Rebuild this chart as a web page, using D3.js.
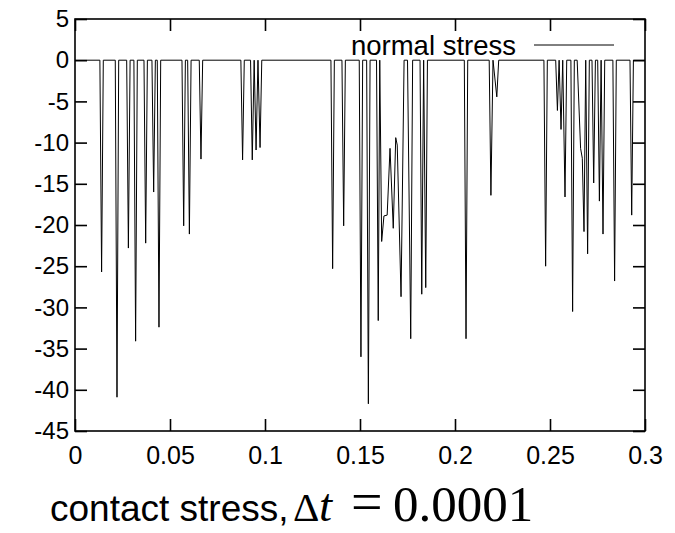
<!DOCTYPE html>
<html>
<head>
<meta charset="utf-8">
<script src="https://cdn.jsdelivr.net/npm/d3@7"></script>
<style>
  html, body { margin: 0; padding: 0; background: #fff; }
  svg { display: block; }
</style>
</head>
<body>
<script>
// ---- data (vertices of the normal-stress trace) ----
const time = [
  0,
  0.0131, 0.0140, 0.0149,
  0.0212, 0.0221, 0.0230,
  0.0272, 0.0281, 0.0290,
  0.0310, 0.0319, 0.0328,
  0.0363, 0.0372, 0.0381,
  0.0405, 0.0414, 0.0423,
  0.0433, 0.0442, 0.0451,
  0.0563, 0.0572, 0.0581,
  0.0593, 0.0602, 0.0611,
  0.0654, 0.0663, 0.0672,
  0.0873, 0.0882, 0.0891,
  0.0924, 0.0933, 0.0943,
  0.0953, 0.0963,
  0.0974, 0.0983,
  0.1347, 0.1356, 0.1365,
  0.1405, 0.1414, 0.1423,
  0.1496, 0.1505, 0.1514,
  0.1535, 0.1544, 0.1553,
  0.1587, 0.1596, 0.1604,
  0.1614, 0.1626, 0.1643, 0.1658, 0.1675, 0.1688, 0.1696, 0.1716, 0.1732,
  0.1750, 0.1767, 0.1777,
  0.1816, 0.1825, 0.1835,
  0.1846, 0.1855,
  0.2049, 0.2058, 0.2067,
  0.2180, 0.2189, 0.2200,
  0.2220, 0.2230,
  0.2468, 0.2477, 0.2486,
  0.2530, 0.2539, 0.2548,
  0.2558, 0.2567,
  0.2579, 0.2588,
  0.2610, 0.2619, 0.2628,
  0.2643, 0.2661, 0.2670, 0.2679, 0.2688,
  0.2698, 0.2707,
  0.2721, 0.2730, 0.2739,
  0.2751, 0.2760, 0.2769,
  0.2779, 0.2788,
  0.2831, 0.2840, 0.2849,
  0.2921, 0.2930, 0.2939,
  0.3
];
const stress = [
  0,
  0, -25.7, 0,
  0, -40.9, 0,
  0, -22.8, 0,
  0, -34.1, 0,
  0, -22.2, 0,
  0, -16.0, 0,
  0, -32.4, 0,
  0, -20.1, 0,
  0, -21.1, 0,
  0, -12.0, 0,
  0, -12.1, 0,
  0, -12.1, 0,
  -10.9, 0,
  -10.6, 0,
  0, -25.3, 0,
  0, -20.1, 0,
  0, -36.0, 0,
  0, -41.7, 0,
  0, -31.6, 0,
  -22.0, -18.9, -18.8, -10.7, -20.4, -9.4, -10.3, -28.7, 0,
  0, -33.8, 0,
  0, -28.4, 0,
  -27.6, 0,
  0, -33.8, 0,
  0, -16.4, 0,
  -4.45, 0,
  0, -25.0, 0,
  0, -6.1, 0,
  -8.4, 0,
  -16.6, 0,
  0, -30.5, 0,
  0, -10.7, -11.9, -20.8, 0,
  -23.5, 0,
  0, -14.9, 0,
  0, -17.1, 0,
  -21.1, 0,
  0, -26.8, 0,
  0, -18.8, 0,
  0
];
const xTicks = [0, 0.05, 0.1, 0.15, 0.2, 0.25, 0.3];
const xTickLabels = ["0", "0.05", "0.1", "0.15", "0.2", "0.25", "0.3"];
const yTicks = [5, 0, -5, -10, -15, -20, -25, -30, -35, -40, -45];
const yTickLabels = ["5", "0", "-5", "-10", "-15", "-20", "-25", "-30", "-35", "-40", "-45"];
const seriesName = "normal stress";

(function () {
  // ---- layout ----
  const W = 675, H = 533;
  const pL = 75, pR = 645, pT = 19, pB = 431;
  const tickLen = 12;

  const svg = d3.select("body").append("svg").attr("width", W).attr("height", H);

  const x = d3.scaleLinear().domain([0, 0.3]).range([pL, pR]);
  const y = d3.scaleLinear().domain([-45, 5]).range([pB, pT]);

  const sans = "'Liberation Sans', Arial, Helvetica, sans-serif";
  const serif = "'Liberation Serif', 'Times New Roman', serif";

  const axB = d3.axisBottom(x).tickValues(xTicks).tickSize(-tickLen).tickPadding(15)
    .tickFormat((d, i) => xTickLabels[i]);
  const axT = d3.axisTop(x).tickValues(xTicks).tickSize(-tickLen).tickFormat("");
  const axL = d3.axisLeft(y).tickValues(yTicks).tickSize(-tickLen).tickPadding(6)
    .tickFormat((d, i) => yTickLabels[i]);
  const axR = d3.axisRight(y).tickValues(yTicks).tickSize(-tickLen).tickFormat("");

  function styleAxis(g, size) {
    g.select(".domain").remove();
    g.selectAll(".tick line").attr("stroke", "#000").attr("stroke-width", 1.6);
    g.selectAll(".tick text").attr("fill", "#000").style("font-family", sans).style("font-size", size + "px");
  }
  svg.append("g").attr("transform", `translate(0,${pB})`).call(axB).call(styleAxis, 25);
  svg.append("g").attr("transform", `translate(0,${pT})`).call(axT).call(styleAxis, 25);
  svg.append("g").attr("transform", `translate(${pL},0)`).call(axL).call(styleAxis, 24);
  svg.append("g").attr("transform", `translate(${pR},0)`).call(axR).call(styleAxis, 24);

  svg.append("rect")
    .attr("x", pL).attr("y", pT).attr("width", pR - pL).attr("height", pB - pT)
    .attr("fill", "none").attr("stroke", "#000").attr("stroke-width", 1.6);

  const pts = time.map((t, i) => [t, stress[i]]);
  const line = d3.line().x(d => x(d[0])).y(d => y(d[1]));
  svg.append("path").datum(pts)
    .attr("d", line)
    .attr("fill", "none").attr("stroke", "#000").attr("stroke-width", 1)
    .attr("stroke-linejoin", "miter");

  svg.append("text").attr("x", 516).attr("y", 55).attr("text-anchor", "end")
    .style("font-family", sans).style("font-size", "27.5px").attr("fill", "#000")
    .text(seriesName);
  svg.append("line").attr("x1", 534).attr("x2", 614).attr("y1", 45).attr("y2", 45)
    .attr("stroke", "#000").attr("stroke-width", 1);

  const title = svg.append("text").attr("x", 50).attr("y", 521).attr("fill", "#000");
  title.append("tspan").style("font-family", sans).style("font-size", "37px").text("contact stress,");
  title.append("tspan").attr("x", 293).style("font-family", serif).style("font-size", "41px").text("\u0394");
  title.append("tspan").attr("x", 319).style("font-family", serif).style("font-size", "47px").style("font-style", "italic").text("t");
  title.append("tspan").attr("x", 351).style("font-family", serif).style("font-size", "56px").text("=");
  title.append("tspan").attr("x", 393).style("font-family", serif).style("font-size", "51px").text("0.0001");
})();
</script>
</body>
</html>
